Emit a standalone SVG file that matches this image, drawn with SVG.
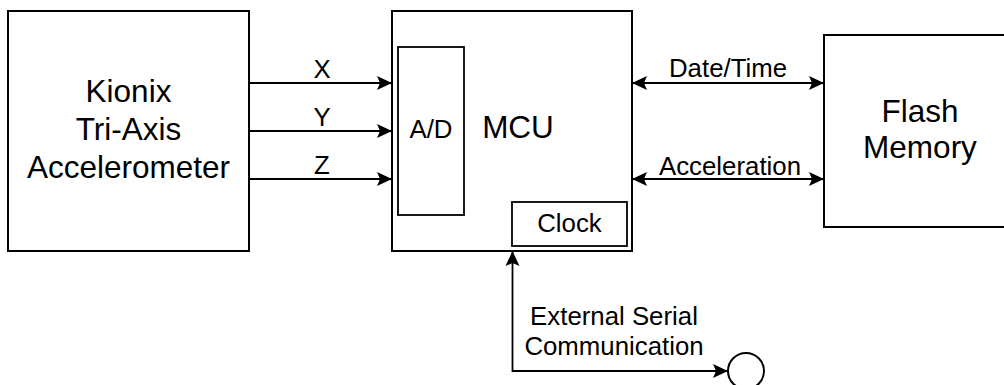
<svg xmlns="http://www.w3.org/2000/svg" width="1004" height="385" viewBox="0 0 1004 385">
<style>
.box{fill:#fff;stroke:#000;stroke-width:2}
.inner{fill:none;stroke:#000;stroke-width:1.8}
.ln{fill:none;stroke:#000;stroke-width:1.8}
text{font-family:"Liberation Sans",Arial,sans-serif;fill:#000;text-anchor:middle}
.big{font-size:31.5px}
.lbl{font-size:25.8px}
</style>
<defs>
<marker id="ah" markerUnits="userSpaceOnUse" markerWidth="16" markerHeight="15" refX="15" refY="7" orient="auto-start-reverse" viewBox="0 0 16 14">
<path d="M0,0 L15,7 L0,14 L3,7 Z" fill="#000"/>
</marker>
</defs>
<g id="accelerometer">
<rect class="box" x="8" y="11" width="241" height="240"/>
<text class="big" x="128.5" y="101.7">Kionix</text>
<text class="big" x="128.5" y="140">Tri-Axis</text>
<text class="big" x="128.5" y="177.7">Accelerometer</text>
</g>
<g id="mcu">
<rect class="box" x="392" y="11" width="240" height="240"/>
<text class="big" x="518" y="138">MCU</text>
</g>
<g id="ad">
<rect class="inner" x="398" y="47" width="66" height="168"/>
<text class="lbl" x="431" y="138">A/D</text>
</g>
<g id="clock">
<rect class="inner" x="512" y="202" width="115" height="44"/>
<text class="lbl" x="569.5" y="232">Clock</text>
</g>
<g id="flash">
<rect class="box" x="824" y="35" width="200" height="192"/>
<text class="big" x="920" y="122">Flash</text>
<text class="big" x="920" y="158">Memory</text>
</g>
<g id="serial-port">
<circle class="box" cx="746" cy="371" r="18"/>
</g>
<g id="connectors">
<line class="ln" x1="249" y1="83" x2="392" y2="83" marker-end="url(#ah)"/>
<line class="ln" x1="249" y1="131" x2="392" y2="131" marker-end="url(#ah)"/>
<line class="ln" x1="249" y1="179" x2="392" y2="179" marker-end="url(#ah)"/>
<line class="ln" x1="632" y1="83" x2="824" y2="83" marker-start="url(#ah)" marker-end="url(#ah)"/>
<line class="ln" x1="632" y1="179" x2="824" y2="179" marker-start="url(#ah)" marker-end="url(#ah)"/>
<path class="ln" d="M728,371 H512.5 V251" marker-start="url(#ah)" marker-end="url(#ah)"/>
<text class="lbl" x="322" y="78">X</text>
<text class="lbl" x="322" y="126">Y</text>
<text class="lbl" x="322" y="174">Z</text>
<text class="lbl" x="728" y="77">Date/Time</text>
<text class="lbl" x="730" y="175">Acceleration</text>
<text class="lbl" x="614" y="325">External Serial</text>
<text class="lbl" x="614" y="355">Communication</text>
</g>
</svg>
